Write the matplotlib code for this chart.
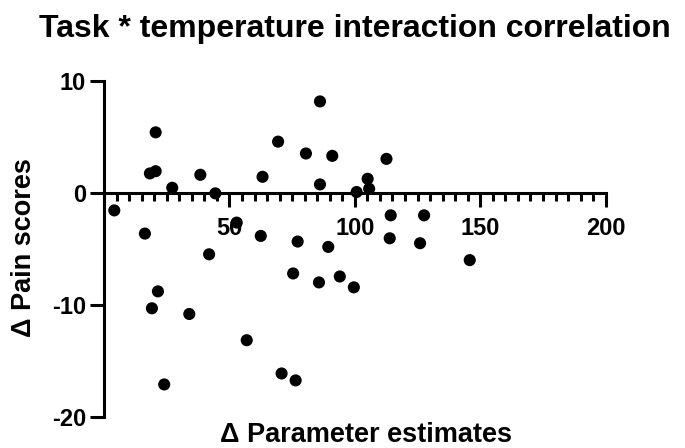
import matplotlib
matplotlib.use("Agg")
import matplotlib.pyplot as plt
from matplotlib.ticker import MultipleLocator

plt.rcParams['font.family'] = ['Liberation Sans', 'DejaVu Sans']

# Data
param_estimates = [4.1, 16.3, 20.6, 18.3, 20.6, 27.2, 38.4, 44.4, 41.9, 52.9,
                   62.5, 63.2, 69.4, 80.5, 86.1, 86.1, 91.0, 77.2, 89.4, 112.6,
                   105.1, 100.7, 105.7, 114.3, 127.6, 113.9, 126.0, 145.8, 75.4, 85.7,
                   94.0, 99.6, 21.5, 19.1, 34.0, 56.9, 70.8, 76.4, 24.0]
pain_scores = [-1.58, -3.65, 5.39, 1.72, 1.92, 0.44, 1.60, -0.06, -5.5, -2.67,
               -3.86, 1.42, 4.56, 3.50, 8.15, 0.74, 3.29, -4.36, -4.84, 3.02,
               1.24, 0.06, 0.35, -2.02, -2.02, -4.07, -4.51, -6.02, -7.21, -8.01,
               -7.48, -8.45, -8.81, -10.32, -10.83, -13.17, -16.14, -16.76, -17.12]

x_ticks = [0, 50, 100, 150, 200]
x_tick_labels = ['', '50', '100', '150', '200']
y_ticks = [-20, -10, 0, 10]
y_tick_labels = ['-20', '-10', '0', '10']

title = "Task * temperature interaction correlation"
xlabel = "\u0394 Parameter estimates"
ylabel = "\u0394 Pain scores"

W, H = 685, 448
fig = plt.figure(figsize=(W / 100, H / 100), dpi=100)
left, right = 104 / W, 605.7 / W
bottom, top = 1 - 416.7 / H, 1 - 80.7 / H
ax = fig.add_axes([left, bottom, right - left, top - bottom])

ax.scatter(param_estimates, pain_scores, s=76, color='black', edgecolors='none',
           zorder=5, clip_on=False)

ax.set_xlim(0, 200)
ax.set_ylim(-20, 10)

lw = 2.2
for s in ['top', 'right']:
    ax.spines[s].set_visible(False)
ax.spines['bottom'].set_position(('data', 0))
ax.spines['bottom'].set_linewidth(lw)
ax.spines['left'].set_linewidth(lw)
ax.spines['bottom'].set_capstyle('projecting')
ax.spines['left'].set_capstyle('projecting')

ax.set_xticks(x_ticks)
ax.set_xticklabels(x_tick_labels)
ax.set_yticks(y_ticks)
ax.set_yticklabels(y_tick_labels)
ax.xaxis.set_minor_locator(MultipleLocator(5))

ax.tick_params(axis='x', which='major', direction='out', length=10, width=lw,
               labelsize=17, pad=7.5)
ax.tick_params(axis='x', which='minor', direction='out', length=5.5, width=lw)
ax.tick_params(axis='y', which='major', direction='out', length=10, width=lw,
               labelsize=17, pad=3)
for lab in ax.get_xticklabels() + ax.get_yticklabels():
    lab.set_fontweight('bold')

fig.text(355 / W, 1 - 37 / H, title, ha='center', va='baseline',
         fontsize=23, fontweight='bold')
fig.text(366 / W, 1 - 442 / H, xlabel, ha='center', va='baseline',
         fontsize=19.5, fontweight='bold')
fig.text(24 / W, 1 - 247.5 / H, ylabel, ha='center', va='center', rotation=90,
         fontsize=19.5, fontweight='bold')

fig.savefig('out.png', dpi=100)
